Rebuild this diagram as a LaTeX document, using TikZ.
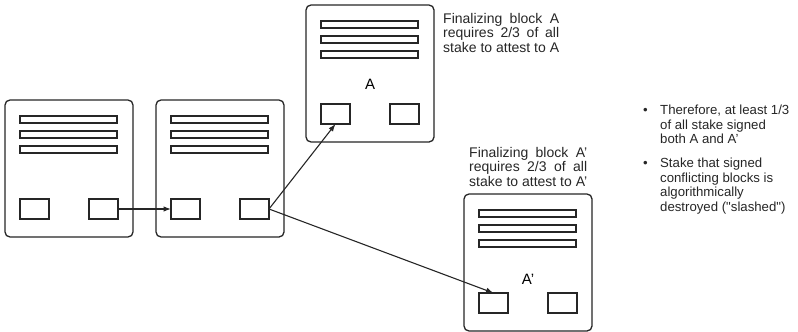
\documentclass[tikz,border=0pt]{standalone}
\usepackage{fontspec}
\setmainfont{Liberation Sans}
% same family without the TeX mapping, so that " stays a straight quote
\newfontfamily\rawsans{Liberation Sans}
\usetikzlibrary{arrows.meta}

\tikzset{
  blockbox/.style={draw=black!85, line width=1.3pt, rounded corners=5pt, fill=white,
    minimum width=128pt, minimum height=137pt, inner sep=0pt, outer sep=0pt, anchor=north west},
  txbar/.style={draw=black!85, line width=1.2pt, minimum width=97pt, minimum height=7pt,
    inner sep=0pt, outer sep=0pt, anchor=north west},
  slot/.style={draw=black!85, line width=1.2pt, minimum width=29pt, minimum height=20pt,
    inner sep=0pt, outer sep=0pt, anchor=north west},
  blocklabel/.style={font=\fontsize{15}{15}\selectfont, inner sep=0pt},
  note/.style={font=\fontsize{14}{14.5}\selectfont, align=left, inner sep=0pt, anchor=north west,
    text=black!85},
  link/.style={draw=black!85, line width=1.1pt, -{Latex[length=7.5pt,width=5.5pt]}},
}

% A block: frame, three transaction bars and two slots; #1 name, (#2,#3) top-left corner
\newcommand\chainblock[3]{%
  \node[blockbox] (#1) at (#2,#3) {};
  \node[txbar] (#1-bar1) at (#2+15,#3+16) {};
  \node[txbar] (#1-bar2) at (#2+15,#3+31) {};
  \node[txbar] (#1-bar3) at (#2+15,#3+46) {};
  \node[slot] (#1-slot1) at (#2+15,#3+99) {};
  \node[slot] (#1-slot2) at (#2+84,#3+99) {};
}

\begin{document}
\begin{tikzpicture}[x=1pt, y=-1pt]
  \useasboundingbox (0,0) rectangle (798,332);

  % chain of blocks
  \chainblock{b1}{5}{100}
  \chainblock{b2}{156}{100}
  \chainblock{bA}{306}{5}
  \chainblock{bB}{464}{194}

  \node[blocklabel] (labA) at (370,84) {A};
  \node[blocklabel] (labB) at (528,279) {A'};

  % links between blocks
  \draw[link] (b1-slot2.east) -- (b2-slot1.west);
  \draw[link] (b2-slot2.east) -- (bA-slot1.south);
  \draw[link] (b2-slot2.east) -- (bB-slot1.north);

  % finality notes
  \node[note] (noteA) at (443,13)
    {\makebox[116pt][s]{Finalizing block A}\\
     \makebox[116pt][s]{requires 2/3 of all}\\
     stake to attest to A};
  \node[note] (noteB) at (469,147)
    {\makebox[118pt][s]{Finalizing block A'}\\
     \makebox[118pt][s]{requires 2/3 of all}\\
     stake to attest to A'};

  % conclusions
  \node[note, font=\fontsize{13.2}{14.5}\selectfont] (bullets) at (643,105)
    {\makebox[17pt][l]{•}Therefore, at least 1/3\\
     \hspace*{17pt}of all stake signed\\
     \hspace*{17pt}both A and A'\\[9.5pt]
     \makebox[17pt][l]{•}Stake that signed\\
     \hspace*{17pt}conflicting blocks is\\
     \hspace*{17pt}algorithmically\\
     \hspace*{17pt}destroyed ({\rawsans"}slashed{\rawsans"})};
\end{tikzpicture}
\end{document}
